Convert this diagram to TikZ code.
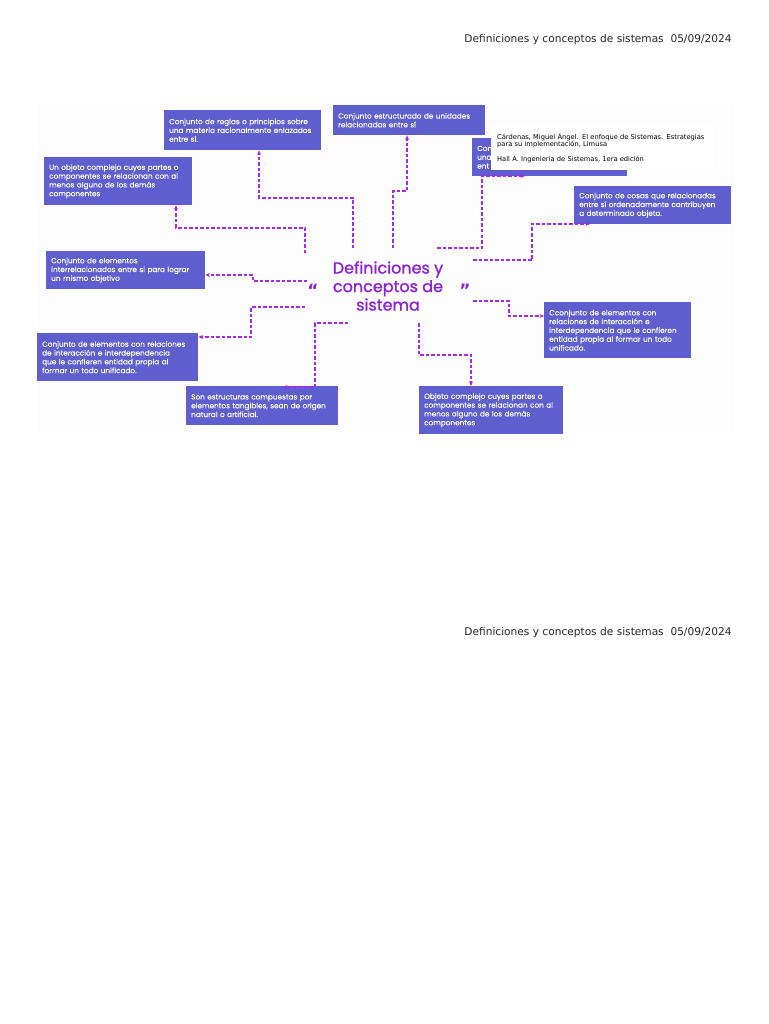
\documentclass[tikz,border=0pt]{standalone}
\usepackage{fontspec}
\setmainfont{DejaVu Sans}
\newfontfamily\mapfont[FakeBold=0.4]{Poppins}
\newfontfamily\titlefont[FakeBold=1.2]{Poppins}
\usetikzlibrary{arrows.meta}
\definecolor{boxblue}{HTML}{5E5ECF}
\definecolor{titlepurple}{HTML}{8B22D9}
\definecolor{linkpurple}{HTML}{A52AE8}
\tikzset{
  concept/.style={fill=boxblue, text=white, anchor=north west, align=left,
    inner xsep=5pt, inner ysep=4pt, font=\mapfont\fontsize{7.3}{8.8}\selectfont},
  link/.style={draw=linkpurple, line width=1.1pt, dash pattern=on 3.5pt off 2pt,
    -{Stealth[length=4.5pt,width=4pt]}},
  header/.style={font=\fontsize{10.6}{12}\selectfont, text=black!85},
  quote/.style={text=titlepurple, font=\bfseries\fontsize{17}{17}\selectfont},
}

\begin{document}
\begin{tikzpicture}[x=1pt, y=-1pt]
      \useasboundingbox (0,0) rectangle (768,1024);
      \fill[gray!1.5] (37,103) rectangle (735,433);
      \node[header] (hdr1) at (598,40) {Definiciones y conceptos de sistemas\ \ 05/09/2024};
      \node[header] (hdr2) at (598,633) {Definiciones y conceptos de sistemas\ \ 05/09/2024};
      \node[concept, text width=147pt, minimum height=40pt] (reglas) at (164,110)
        {Conjunto de reglas o principios sobre\\una materia racionalmente enlazados\\entre sí.};
      \node[concept, text width=138pt, minimum height=48pt] (objeto) at (44,157)
        {Un objeto complejo cuyes partes o\\componentes se relacionan con al\\menos alguno de los demás\\componentes};
      \node[concept, text width=142pt, minimum height=30pt] (estructurado) at (333,105)
        {Conjunto estructurado de unidades\\relacionadas entre sí};
      \node[concept, text width=145pt, minimum height=38pt] (oculto) at (472,138)
        {Con\\una\\ent};
      \node[fill=white, anchor=north west, align=left, text width=210pt, minimum height=45pt,
        inner sep=6pt, font=\fontsize{6.7}{7.6}\selectfont] (cita) at (491,125)
        {Cárdenas, Miguel Ángel. El enfoque de Sistemas. Estrategias\\para su implementación, Limusa\\[7pt]Hall A. Ingeniería de Sistemas, 1era edición};
      \node[concept, text width=147pt, minimum height=38pt] (cosas) at (574,186)
        {Conjunto de cosas que relacionadas\\entre sí ordenadamente contribuyen\\a determinado objeto.};
      \node[concept, text width=149pt, minimum height=38pt] (interrel) at (46,251)
        {Conjunto de elementos\\interrelacionados entre si para lograr\\un mismo objetivo};
      \node[concept, text width=151pt, minimum height=48pt] (interaccion) at (37,333)
        {Conjunto de elementos con relaciones\\de interacción e interdependencia\\que le confieren entidad propia al\\formar un todo unificado.};
      \node[concept, text width=142pt, minimum height=39pt] (estructuras) at (186,386)
        {Son estructuras compuestas por\\elementos tangibles, sean de origen\\natural o artificial.};
      \node[concept, text width=137pt, minimum height=56pt] (cconjunto) at (544,302)
        {Cconjunto de elementos con\\relaciones de interacción e\\interdependencia que le confieren\\entidad propia al formar un todo\\unificado.};
      \node[concept, text width=134pt, minimum height=48pt] (complejo) at (419,386)
        {Objeto complejo cuyes partes o\\componentes se relacionan con al\\menos alguno de los demás\\componentes};
      \node[text=titlepurple, align=center, font=\titlefont\fontsize{16}{18.5}\selectfont] (titulo) at (388,286)
        {Definiciones y\\conceptos de\\sistema};
      \node[quote] (abre) at (313,290) {“};
      \node[quote] (cierra) at (465,290) {”};
      \coordinate (s1) at (353,248);  \coordinate (k1) at (259,198);
      \coordinate (s2) at (305,253);  \coordinate (k2) at (176,228);
      \coordinate (s3) at (307,281);  \coordinate (k3) at (253,275);
      \coordinate (s4) at (393,248);  \coordinate (k4) at (407,191);
      \coordinate (s5) at (437,248);  \coordinate (k5) at (482,176);  \coordinate (e5) at (525,176);
      \coordinate (s6) at (473,260);  \coordinate (k6) at (532,224);  \coordinate (e6) at (590,224);
      \coordinate (s7) at (473,301);  \coordinate (k7) at (509,316);
      \coordinate (s8) at (419,323);  \coordinate (k8) at (471,355);
      \coordinate (s9) at (305,307);  \coordinate (k9) at (251,337);
      \coordinate (s10) at (348,323); \coordinate (k10) at (315,387); \coordinate (e10) at (283,387);
      \draw[link] (s1) |- (k1) -- (k1 |- reglas.south);
      \draw[link] (s2) |- (k2) -- (k2 |- objeto.south);
      \draw[link] (s3) -| (k3) -- (k3 -| interrel.east);
      \draw[link] (s4) |- (k4) -- (k4 |- estructurado.south);
      \draw[link] (s5) -| (k5) -- (e5);
      \draw[link] (s6) -| (k6) -- (e6);
      \draw[link] (s7) -| (k7) -- (k7 -| cconjunto.west);
      \draw[link] (s8) |- (k8) -- (k8 |- complejo.north);
      \draw[link] (s9) -| (k9) -- (k9 -| interaccion.east);
      \draw[link] (s10) -| (k10) -- (e10);
    \end{tikzpicture}
\end{document}
